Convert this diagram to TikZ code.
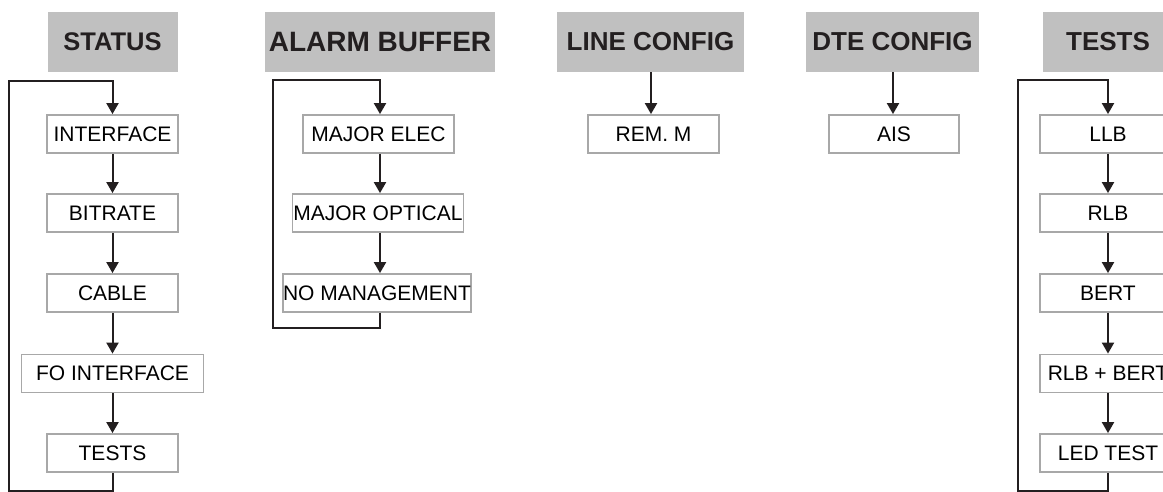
\documentclass[tikz,border=0pt]{standalone}
\usepackage{fontspec}
\setmainfont{Liberation Sans}
\usetikzlibrary{arrows.meta}
\definecolor{hdrgray}{HTML}{C0C0C0}
\definecolor{boxgray}{HTML}{A8A8A8}
\definecolor{ink}{HTML}{231F20}
\tikzset{
  hdr/.style={fill=hdrgray, draw=none, inner sep=0pt, minimum height=60pt,
    font=\fontsize{26}{30}\selectfont\bfseries, text=ink},
  itembox/.style={draw=boxgray, line width=1.8pt, fill=white, inner sep=0pt,
    minimum height=38pt, font=\fontsize{21}{25}\selectfont, text=black},
  flow/.style={draw=ink, line width=2pt, -{Triangle[length=11pt,width=12pt]}},
}
\begin{document}
\begin{tikzpicture}[x=1pt,y=-1pt]
\useasboundingbox (0,0) rectangle (1163,492);
\clip (0,0) rectangle (1163,492);

% ---- STATUS ----
\node[hdr, minimum width=130pt, font=\fontsize{25.5}{30}\selectfont\bfseries] (hS) at (112.5,42) {STATUS};
\node[itembox, minimum width=131pt] (s1) at (112.5,134) {INTERFACE};
\node[itembox, minimum width=131pt] (s2) at (112.5,213) {BITRATE};
\node[itembox, minimum width=131pt] (s3) at (112.5,293) {CABLE};
\node[itembox, minimum width=182pt] (s4) at (112.5,373.5) {FO INTERFACE};
\node[itembox, minimum width=131pt] (s5) at (112.5,453) {TESTS};
\draw[flow] (s1) -- (s2);
\draw[flow] (s2) -- (s3);
\draw[flow] (s3) -- (s4);
\draw[flow] (s4) -- (s5);
\coordinate (sbl) at (9,491);
\coordinate (stl) at (9,81);
\draw[flow] (s5.south) |- (sbl) -- (stl) -| (s1.north);

% ---- ALARM BUFFER ----
\node[hdr, minimum width=230pt, font=\fontsize{28}{32}\selectfont\bfseries] (hA) at (380,42) {ALARM BUFFER};
\node[itembox, minimum width=151pt] (a1) at (378.5,134) {MAJOR ELEC};
\node[itembox, minimum width=171pt] (a2) at (378,213) {MAJOR OPTICAL};
\node[itembox, minimum width=171pt] (a3) at (377,293) {NO MANAGEMENT};
\coordinate (at1) at (380,134);
\coordinate (at2) at (380,213);
\coordinate (at3) at (380,293);
\draw[flow] (at1 |- a1.south) -- (at2 |- a2.north);
\draw[flow] (at2 |- a2.south) -- (at3 |- a3.north);
\coordinate (abl) at (273,328);
\coordinate (atl) at (273,80);
\draw[flow] (at3 |- a3.south) |- (abl) -- (atl) -| (at1 |- a1.north);

% ---- LINE CONFIG ----
\node[hdr, minimum width=187pt] (hL) at (650.5,42) {LINE CONFIG};
\node[itembox, minimum width=131pt] (l1) at (653.5,134) {REM. M};
\coordinate (lx) at (651,0);
\draw[flow] (lx |- hL.south) -- (lx |- l1.north);

% ---- DTE CONFIG ----
\node[hdr, minimum width=173pt] (hD) at (892.5,42) {DTE CONFIG};
\node[itembox, minimum width=130pt] (d1) at (894,134) {AIS};
\coordinate (dx) at (893,0);
\draw[flow] (dx |- hD.south) -- (dx |- d1.north);

% ---- TESTS ----
\node[hdr, minimum width=130pt] (hT) at (1108,42) {TESTS};
\node[itembox, minimum width=136pt] (t1) at (1108,134) {LLB};
\node[itembox, minimum width=136pt] (t2) at (1108,213) {RLB};
\node[itembox, minimum width=136pt] (t3) at (1108,293) {BERT};
\node[itembox, minimum width=136pt] (t4) at (1108,373.5) {RLB + BERT};
\node[itembox, minimum width=136pt] (t5) at (1108,453) {LED TEST};
\draw[flow] (t1) -- (t2);
\draw[flow] (t2) -- (t3);
\draw[flow] (t3) -- (t4);
\draw[flow] (t4) -- (t5);
\coordinate (tbl) at (1018,491);
\coordinate (ttl) at (1018,80);
\draw[flow] (t5.south) |- (tbl) -- (ttl) -| (t1.north);
\end{tikzpicture}
\end{document}
